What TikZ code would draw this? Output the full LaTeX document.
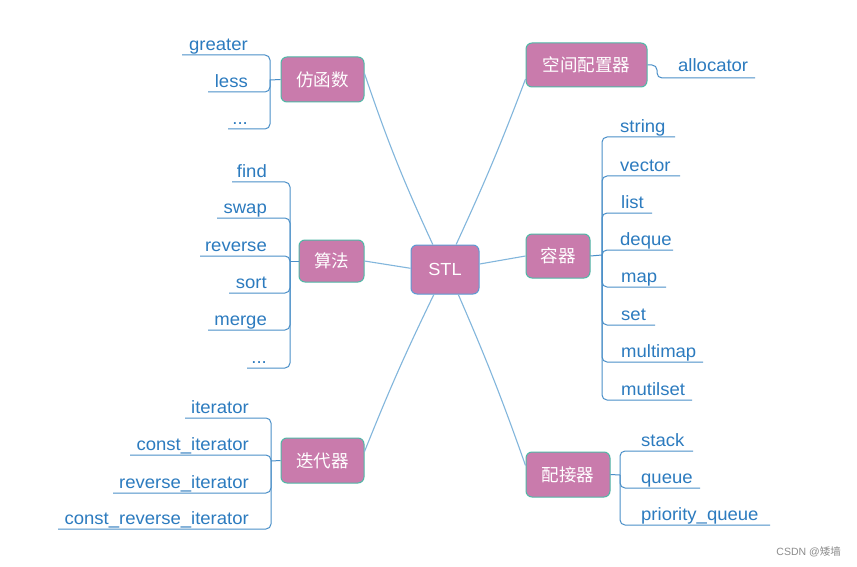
\documentclass[tikz,border=0pt]{standalone}
\usepackage{fontspec}
\setmainfont{Liberation Sans}
\newfontfamily\leaffont{Liberation Sans}[FakeStretch=1.04]
\newfontfamily\cjk{Noto Sans CJK SC}
\usetikzlibrary{calc}
\definecolor{boxfill}{HTML}{C97BAC}
\definecolor{boxedge}{HTML}{4FB8A6}
\definecolor{stledge}{HTML}{5B9BD5}
\definecolor{leaftext}{HTML}{2C7BBF}
\definecolor{bline}{HTML}{4A8FC8}
\definecolor{mline}{HTML}{82B6DC}
\tikzset{
  branch/.style={draw=boxedge, fill=boxfill, rounded corners=6pt, line width=1pt,
    text=white, inner sep=0pt, font=\cjk\fontsize{17.5}{20}\selectfont},
  stlbox/.style={branch, draw=stledge, font=\leaffont\fontsize{17.5}{20}\selectfont},
  leaf/.style={text=leaftext, inner sep=0pt, font=\leaffont\fontsize{17.8}{20}\selectfont},
  bracketline/.style={draw=bline, line width=1pt, rounded corners=5pt},
  mainline/.style={draw=mline, line width=1.1pt},
}
\newcommand\lfL[6]{\node[leaf,anchor=base east] (#6) at (#5,#3-4.5) {#2};
  \draw[bracketline] (#1) |- (#4,#3);}
\newcommand\lfR[6]{\node[leaf,anchor=base west] (#6) at (#5,#3-4.5) {#2};
  \draw[bracketline] (#1) |- (#4,#3);}
\begin{document}
\begin{tikzpicture}[x=1pt,y=-1pt]
\fill[white] (0,0) rectangle (857,567);
\useasboundingbox (0,0) rectangle (857,567);

% main nodes
\node[stlbox, minimum width=68pt, minimum height=49pt] (stl) at (445,269.5) {STL};
\node[branch, minimum width=83pt, minimum height=45pt] (fhs) at (322.5,79.5) {仿函数};
\node[branch, minimum width=65pt, minimum height=42pt] (sf) at (331.5,261) {算法};
\node[branch, minimum width=83pt, minimum height=45pt] (ddq) at (322.5,460.5) {迭代器};
\node[branch, minimum width=121pt, minimum height=44pt] (kj) at (586.5,65) {空间配置器};
\node[branch, minimum width=64pt, minimum height=44pt] (rq) at (558,256) {容器};
\node[branch, minimum width=84pt, minimum height=45pt] (pj) at (568,474.5) {配接器};

% main connectors
\draw[mainline] (fhs.8) to[bend right=3] (stl.116);
\draw[mainline] (kj.193) to[bend left=2] (stl.66);
\draw[mainline] (sf.east) -- (stl.178);
\draw[mainline] (rq.west) -- (stl.9);
\draw[mainline] (ddq.12) to[bend left=2] (stl.246);
\draw[mainline] (pj.168) to[bend right=2] (stl.298);

% 仿函数 leaves
\coordinate (jf) at (270,80);
\draw[bracketline] (fhs.west) -- (jf);
\lfL{jf}{greater}{55}{182}{248}{lgreater}
\lfL{jf}{less}{92}{208}{248}{lless}
\lfL{jf}{...}{129}{228}{248}{ldotsa}

% 算法 leaves
\coordinate (js) at (290,261);
\draw[bracketline] (sf.west) -- (js);
\lfL{js}{find}{182}{232}{267}{lfind}
\lfL{js}{swap}{218}{217}{267}{lswap}
\lfL{js}{reverse}{256}{200}{267}{lreverse}
\lfL{js}{sort}{293}{229}{267}{lsort}
\lfL{js}{merge}{330}{208}{267}{lmerge}
\lfL{js}{...}{368}{247}{267}{ldotsb}

% 迭代器 leaves
\coordinate (jd) at (271,461);
\draw[bracketline] (ddq.west) -- (jd);
\lfL{jd}{iterator}{418}{185}{249}{lit}
\lfL{jd}{const\_iterator}{455}{130}{249}{lcit}
\lfL{jd}{reverse\_iterator}{493}{113}{249}{lrit}
\lfL{jd}{const\_reverse\_iterator}{529}{58}{249}{lcrit}

% 空间配置器 leaf
\node[leaf,anchor=base west] (lalloc) at (678,72) {allocator};
\draw[bracketline] (kj.east) -- (657,65) |- (755,78);

% 容器 leaves
\coordinate (jr) at (602,255);
\draw[bracketline] (rq.east) -- (jr);
\lfR{jr}{string}{137}{675}{620}{lstring}
\lfR{jr}{vector}{176}{680}{620}{lvector}
\lfR{jr}{list}{213}{652}{621}{llist}
\lfR{jr}{deque}{250}{673}{620}{ldeque}
\lfR{jr}{map}{287}{666}{621}{lmap}
\lfR{jr}{set}{325}{655}{621}{lset}
\lfR{jr}{multimap}{362}{703}{621}{lmultimap}
\lfR{jr}{mutilset}{400}{692}{621}{lmutilset}

% 配接器 leaves
\coordinate (jp) at (620,475);
\draw[bracketline] (pj.east) -- (jp);
\lfR{jp}{stack}{451}{693}{641}{lstack}
\lfR{jp}{queue}{488}{700}{641}{lqueue}
\lfR{jp}{priority\_queue}{525}{770}{641}{lpq}

% watermark
\node[text=black!45, inner sep=0pt, anchor=base east, font=\fontsize{10.5}{12}\selectfont] (wm) at (841,555) {CSDN @{\cjk 矮墙}};
\end{tikzpicture}
\end{document}
